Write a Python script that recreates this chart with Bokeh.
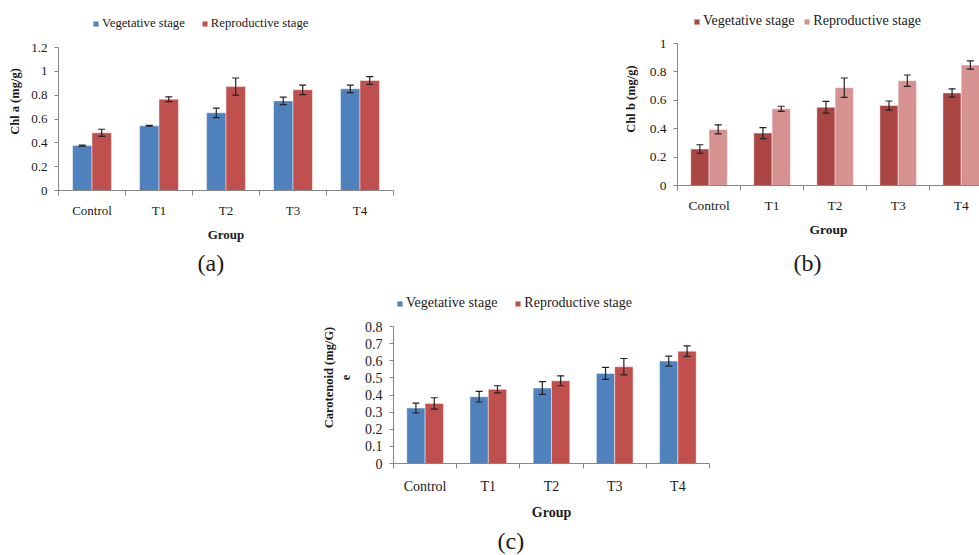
from bokeh.plotting import figure
from bokeh.models import (ColumnDataSource, Range1d, FixedTicker, Whisker, TeeHead,
                          Legend, LegendItem, Title, Spacer)
from bokeh.layouts import row, column
from bokeh.embed import file_html
from bokeh.resources import INLINE

# ---------------- data ----------------
groups = ["Control", "T1", "T2", "T3", "T4"]
series_names = ["Vegetative stage", "Reproductive stage"]

chla_veg = [0.377, 0.543, 0.652, 0.752, 0.853]
chla_veg_err = [0.004, 0.004, 0.040, 0.032, 0.032]
chla_rep = [0.484, 0.766, 0.872, 0.845, 0.923]
chla_rep_err = [0.030, 0.020, 0.072, 0.040, 0.032]

chlb_veg = [0.257, 0.369, 0.551, 0.563, 0.652]
chlb_veg_err = [0.030, 0.039, 0.041, 0.032, 0.029]
chlb_rep = [0.395, 0.540, 0.689, 0.738, 0.848]
chlb_rep_err = [0.032, 0.018, 0.068, 0.040, 0.029]

car_veg = [0.324, 0.390, 0.441, 0.526, 0.598]
car_veg_err = [0.029, 0.031, 0.037, 0.035, 0.029]
car_rep = [0.351, 0.433, 0.483, 0.565, 0.656]
car_rep_err = [0.033, 0.021, 0.029, 0.048, 0.031]

yticks_a = [0, 0.2, 0.4, 0.6, 0.8, 1.0, 1.2]
yticks_b = [0, 0.2, 0.4, 0.6, 0.8, 1.0]
yticks_c = [0, 0.1, 0.2, 0.3, 0.4, 0.5, 0.6, 0.7, 0.8]

# ---------------- style ----------------
SERIF = "Liberation Serif"
AXIS = "#868686"
TXT = "#1a1a1a"
ERR = "#222222"
BW = 0.29


def make_chart(veg, veg_err, rep, rep_err, colors, yticks, ylabel, caption,
               frame_w, axis_h, head, borders, x_end, fs, legend_fs, legend_loc,
               legend_spacing, cap_offset, ylab_standoff, xlab_standoff,
               xtitle_standoff, cap_standoff):
    n = len(groups)
    centers = [i + 0.5 for i in range(n)]
    src = ColumnDataSource(dict(
        xv=[c - BW / 2 for c in centers],
        xr=[c + BW / 2 for c in centers],
        veg=veg, rep=rep,
        veg_lo=[v - e for v, e in zip(veg, veg_err)],
        veg_hi=[v + e for v, e in zip(veg, veg_err)],
        rep_lo=[v - e for v, e in zip(rep, rep_err)],
        rep_hi=[v + e for v, e in zip(rep, rep_err)],
    ))
    left, right, top, bottom = borders
    ymax = yticks[-1]
    # frame extends above the top tick to hold the legend; the axis stops at ymax
    y_end = ymax * (axis_h + head) / axis_h
    p = figure(frame_width=frame_w, frame_height=axis_h + head,
               x_range=Range1d(0, x_end), y_range=Range1d(yticks[0], y_end),
               output_backend="svg", toolbar_location=None,
               min_border_left=left, min_border_right=right,
               min_border_top=top, min_border_bottom=bottom)
    p.outline_line_color = None
    p.xgrid.grid_line_color = None
    p.ygrid.grid_line_color = None
    p.background_fill_color = "white"
    p.border_fill_color = "white"

    r1 = p.vbar(x="xv", width=BW, bottom=0, top="veg", source=src,
                fill_color=colors[0], line_color="white", line_alpha=0.45)
    r2 = p.vbar(x="xr", width=BW, bottom=0, top="rep", source=src,
                fill_color=colors[1], line_color="white", line_alpha=0.45)

    for base, lo, hi in (("xv", "veg_lo", "veg_hi"), ("xr", "rep_lo", "rep_hi")):
        w = Whisker(source=src, base=base, lower=lo, upper=hi, level="overlay",
                    line_color=ERR, line_width=1.2,
                    upper_head=TeeHead(size=7, line_color=ERR, line_width=1.2),
                    lower_head=TeeHead(size=7, line_color=ERR, line_width=1.2))
        p.add_layout(w)

    # x axis: labels at category centres, ticks at category boundaries
    xa = p.xaxis[0]
    xa.ticker = FixedTicker(ticks=centers, minor_ticks=list(range(n + 1)))
    xa.major_label_overrides = {c: g for c, g in zip(centers, groups)}
    xa.major_tick_out = 0
    xa.major_tick_in = 0
    xa.major_tick_line_color = None
    xa.minor_tick_out = 5
    xa.minor_tick_in = 0
    xa.minor_tick_line_color = AXIS
    xa.axis_line_color = AXIS
    xa.major_label_standoff = xlab_standoff
    xa.major_label_text_font = SERIF
    xa.major_label_text_font_size = fs
    xa.major_label_text_color = TXT
    xa.axis_label = "Group"
    xa.axis_label_text_font = SERIF
    xa.axis_label_text_font_style = "bold"
    xa.axis_label_text_font_size = fs
    xa.axis_label_text_color = TXT
    xa.axis_label_standoff = xtitle_standoff

    ya = p.yaxis[0]
    ya.ticker = FixedTicker(ticks=yticks)
    ya.bounds = (yticks[0], ymax)
    ya.major_label_overrides = {v: f"{v:g}" for v in yticks}
    ya.major_tick_out = 4
    ya.major_tick_in = 0
    ya.major_tick_line_color = AXIS
    ya.minor_tick_line_color = None
    ya.axis_line_color = AXIS
    ya.major_label_standoff = 7
    ya.major_label_text_font = SERIF
    ya.major_label_text_font_size = fs
    ya.major_label_text_color = TXT
    ya.axis_label = ylabel
    ya.axis_label_text_font = SERIF
    ya.axis_label_text_font_style = "bold"
    ya.axis_label_text_font_size = "12.5px"
    ya.axis_label_text_color = TXT
    ya.axis_label_standoff = ylab_standoff

    legend = Legend(items=[LegendItem(label=series_names[0], renderers=[r1]),
                           LegendItem(label=series_names[1], renderers=[r2])],
                    location=(legend_loc[0], axis_h + legend_loc[1]),
                    orientation="horizontal",
                    padding=0, margin=0, spacing=legend_spacing,
                    label_standoff=3, glyph_width=7, glyph_height=7,
                    label_height=14, label_text_font=SERIF,
                    label_text_font_size=legend_fs, label_text_color=TXT,
                    border_line_color=None, background_fill_alpha=0)
    p.add_layout(legend)

    p.add_layout(Title(text=caption, align="left", text_font=SERIF,
                       text_font_size="24px", text_font_style="normal",
                       text_color=TXT, offset=cap_offset, standoff=cap_standoff),
                 "below")
    return p


fa = make_chart(chla_veg, chla_veg_err, chla_rep, chla_rep_err,
                ["#4F81BD", "#C0504D"], yticks_a, "Chl a (mg/g)", "(a)",
                335, 143, 35, (58, 7, 12, 90), 5, "13px", "12.7px",
                (34, 16), 16, 139, 6, 7, 6, 7)

fb = make_chart(chlb_veg, chlb_veg_err, chlb_rep, chlb_rep_err,
                ["#A94643", "#D59291"], yticks_b, "Chl b (mg/g)", "(b)",
                302, 142, 31, (77, 0, 7, 100), 4.79, "13.5px", "14px",
                (16, 14), 9, 116, 9, 7, 6, 16)

fc = make_chart(car_veg, car_veg_err, car_rep, car_rep_err,
                ["#4F81BD", "#C0504D"], yticks_c, "Carotenoid (mg/G)\ne", "(c)",
                316, 137, 35, (83, 20, 11, 92), 5, "14px", "14px",
                (3, 15), 17, 104, 9, 10, 8, 6)

layout = column(
    row(fa, Spacer(width=200, height=280), fb),
    row(Spacer(width=310, height=275), fc),
)

open("out.html", "w").write(file_html(layout, INLINE))
